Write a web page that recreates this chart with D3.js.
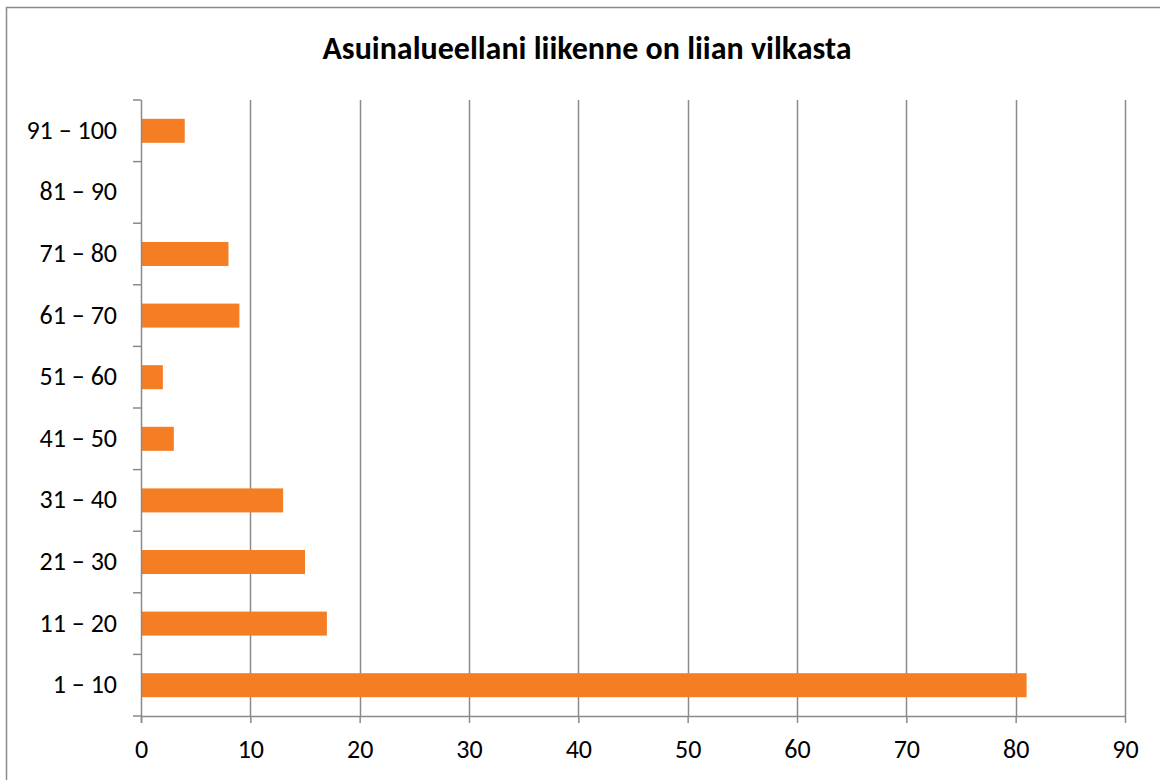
<!DOCTYPE html>
<html><head><meta charset="utf-8">
<script src="https://cdn.jsdelivr.net/npm/d3@7"></script>
<style>body{margin:0;background:#fff}svg{display:block}</style>
</head><body>
<script>
const categories = ["1 – 10","11 – 20","21 – 30","31 – 40","41 – 50","51 – 60","61 – 70","71 – 80","81 – 90","91 – 100"];
const values = [81,17,15,13,3,2,9,8,0,4];
const xTicks = [0,10,20,30,40,50,60,70,80,90];
const title = "Asuinalueellani liikenne on liian vilkasta";

(function(){
const W=1160,H=780;
const svg=d3.select("body").append("svg").attr("width",W).attr("height",H);
const font="Carlito, Calibri, 'Open Sans', sans-serif";
svg.append("rect").attr("x",6.5).attr("y",7.5).attr("width",1160).attr("height",800)
  .attr("fill","#fff").attr("stroke","#8a8a8a").attr("stroke-width",1.5);

const pl=141, pr=1125, pt=100, pb=716;
const x=d3.scaleLinear().domain([0,90]).range([pl,pr]);
const y=d3.scaleBand().domain(categories.slice().reverse()).range([pt,pb]).paddingInner(0.61).paddingOuter(0.305);

svg.append("g").selectAll("line").data(xTicks.slice(1)).join("line")
  .attr("x1",d=>Math.round(x(d))+0.5).attr("x2",d=>Math.round(x(d))+0.5)
  .attr("y1",pt).attr("y2",pb).attr("stroke","#8a8a8a").attr("stroke-width",1.5);

svg.append("g").selectAll("rect").data(categories).join("rect")
  .attr("x",x(0)).attr("y",(d)=>y(d)).attr("height",y.bandwidth())
  .attr("width",(d,i)=>x(values[i])-x(0)).attr("fill","#F57D24");

const xa=svg.append("g").attr("transform",`translate(0,${pb})`)
  .call(d3.axisBottom(x).tickValues(xTicks).tickSize(7).tickPadding(12));
xa.select(".domain").attr("stroke","#8a8a8a").attr("stroke-width",1.5).attr("d",`M${pl},0.5H${pr}`);
xa.selectAll(".tick line").attr("stroke","#8a8a8a").attr("stroke-width",1.5);
xa.selectAll("text").attr("font-family",font).attr("font-size",26).attr("fill","#000")
  .attr("y",42).attr("dy",null);

const yBound=d3.scaleLinear().domain([0,10]).range([pt,pb]);
const ya=svg.append("g").attr("transform",`translate(${pl},0)`);
ya.append("line").attr("x1",0.5).attr("x2",0.5).attr("y1",pt).attr("y2",pb+7).attr("stroke","#8a8a8a").attr("stroke-width",1.5);
ya.selectAll("line.t").data(d3.range(0,11)).join("line").attr("class","t")
  .attr("x1",-8).attr("x2",0).attr("y1",d=>yBound(d)).attr("y2",d=>yBound(d))
  .attr("stroke","#8a8a8a").attr("stroke-width",1.5);
ya.selectAll("text").data(categories).join("text")
  .attr("x",-24).attr("y",d=>y(d)+y.bandwidth()/2+8)
  .attr("text-anchor","end").attr("font-family",font).attr("font-size",26).attr("fill","#000").text(d=>d);

svg.append("text").attr("x",587).attr("y",59).attr("text-anchor","middle")
  .attr("font-family",font).attr("font-weight","bold").attr("font-size",32).attr("fill","#000").text(title);
})();
</script>
</body></html>
